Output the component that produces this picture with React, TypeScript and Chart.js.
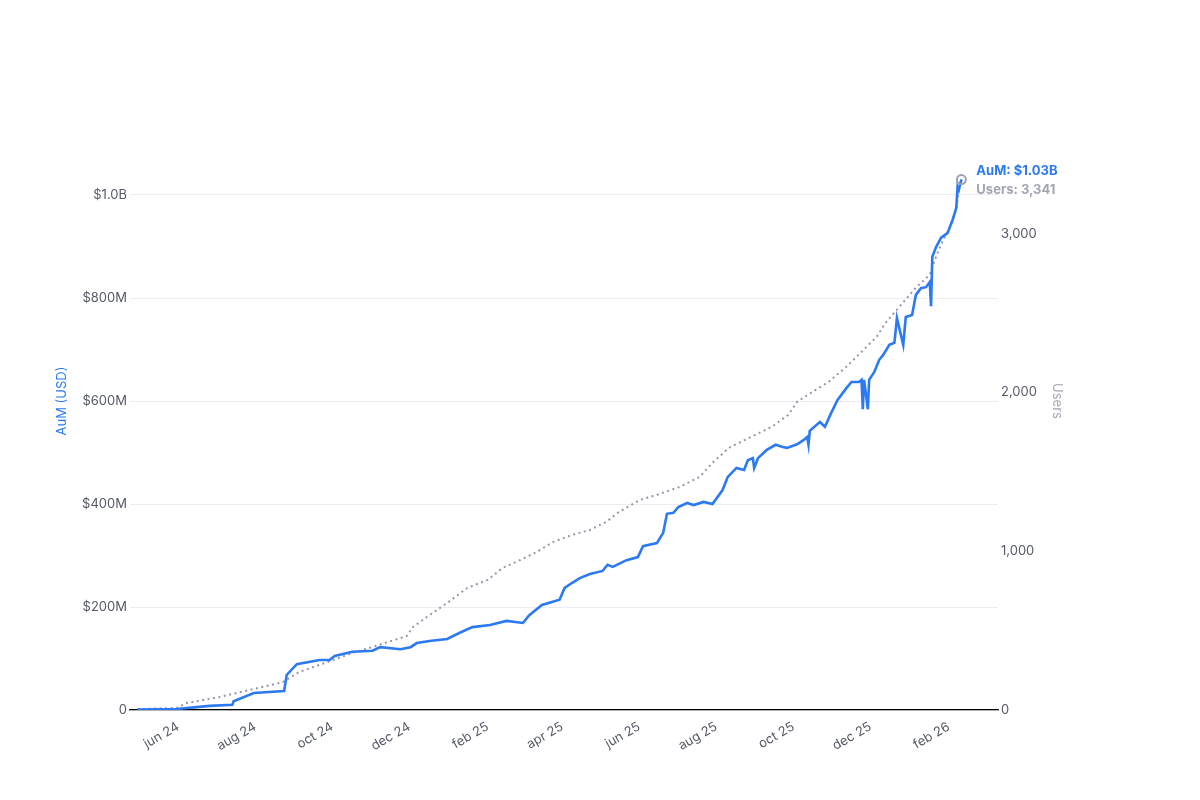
import React, { useEffect, useRef } from "react";
import { Chart, registerables } from "chart.js";

Chart.register(...registerables);

// AuM (USD, millions)
const aumDates = [
  "2024-04-30", "2024-05-31", "2024-06-26", "2024-07-14", "2024-07-15", "2024-07-31",
  "2024-08-24", "2024-08-26", "2024-09-03", "2024-09-21", "2024-09-29", "2024-10-03",
  "2024-10-17", "2024-11-02", "2024-11-08", "2024-11-24", "2024-12-02", "2024-12-07",
  "2024-12-17", "2024-12-31", "2025-01-10", "2025-01-20", "2025-02-03", "2025-02-16",
  "2025-03-01", "2025-03-06", "2025-03-16", "2025-03-30", "2025-04-03", "2025-04-09",
  "2025-04-15", "2025-04-23", "2025-05-03", "2025-05-07", "2025-05-11", "2025-05-22",
  "2025-05-31", "2025-06-04", "2025-06-15", "2025-06-20", "2025-06-23", "2025-06-28",
  "2025-07-02", "2025-07-09", "2025-07-14", "2025-07-22", "2025-07-29", "2025-08-06",
  "2025-08-10", "2025-08-17", "2025-08-23", "2025-08-26", "2025-08-30", "2025-08-31",
  "2025-09-03", "2025-09-10", "2025-09-17", "2025-09-22", "2025-09-26", "2025-10-04",
  "2025-10-09", "2025-10-12", "2025-10-13", "2025-10-14", "2025-10-22", "2025-10-26",
  "2025-10-31", "2025-11-05", "2025-11-12", "2025-11-16", "2025-11-22", "2025-11-24",
  "2025-11-25", "2025-11-26", "2025-11-29", "2025-11-30", "2025-12-04", "2025-12-08",
  "2025-12-11", "2025-12-16", "2025-12-20", "2025-12-22", "2025-12-27", "2025-12-29",
  "2026-01-03", "2026-01-06", "2026-01-10", "2026-01-14", "2026-01-17", "2026-01-18",
  "2026-01-19", "2026-01-22", "2026-01-26", "2026-01-31", "2026-02-04", "2026-02-07",
  "2026-02-08", "2026-02-09", "2026-02-11",
];
const aumValues = [
  1, 2, 8, 10, 17, 33,
  37, 68, 89, 97, 97, 105,
  113, 115, 122, 118, 122, 130,
  134, 138, 150, 161, 165, 173,
  169, 184, 204, 214, 237, 247,
  256, 264, 270, 282, 278, 291,
  297, 318, 324, 344, 381, 383,
  394, 402, 398, 404, 400, 427,
  452, 470, 466, 485, 489, 470,
  489, 505, 515, 511, 509, 516,
  524, 530, 515, 542, 559, 550,
  577, 602, 625, 637, 637, 641,
  584, 641, 584, 641, 656, 680,
  689, 709, 713, 761, 709, 763,
  767, 806, 819, 821, 831, 784,
  880, 899, 917, 926, 951, 975,
  1016, 1010, 1030,
];

// Users
const userDates = [
  "2024-04-30", "2024-05-31", "2024-06-08", "2024-07-04", "2024-07-31", "2024-08-23",
  "2024-09-05", "2024-09-21", "2024-10-17", "2024-11-02", "2024-11-29", "2024-12-04",
  "2024-12-15", "2024-12-31", "2025-01-16", "2025-02-01", "2025-02-13", "2025-02-27",
  "2025-03-12", "2025-03-25", "2025-04-09", "2025-04-23", "2025-05-06", "2025-05-16",
  "2025-06-02", "2025-06-15", "2025-07-03", "2025-07-19", "2025-07-29", "2025-08-11",
  "2025-08-27", "2025-09-14", "2025-09-27", "2025-10-04", "2025-10-15", "2025-10-29",
  "2025-11-12", "2025-11-24", "2025-12-06", "2025-12-13", "2025-12-24", "2026-01-06",
  "2026-01-17", "2026-01-21", "2026-01-27", "2026-02-01", "2026-02-07", "2026-02-09",
  "2026-02-11",
];
const userValues = [
  6, 13, 44, 82, 132, 176,
  240, 284, 359, 397, 466, 523,
  586, 674, 769, 819, 895, 945,
  996, 1059, 1103, 1134, 1185, 1248,
  1324, 1355, 1405, 1469, 1557, 1651,
  1714, 1784, 1859, 1941, 1998, 2067,
  2162, 2256, 2351, 2439, 2540, 2660,
  2742, 2836, 2950, 3025, 3151, 3277,
  3341,
];

const tickDates = [
  "2024-06-01", "2024-08-01", "2024-10-01", "2024-12-01", "2025-02-01",
  "2025-04-01", "2025-06-01", "2025-08-01", "2025-10-01", "2025-12-01", "2026-02-01",
];
const tickLabels = [
  "jun 24", "aug 24", "oct 24", "dec 24", "feb 25",
  "apr 25", "jun 25", "aug 25", "oct 25", "dec 25", "feb 26",
];
const aumTicks = [0, 200, 400, 600, 800, 1000];
const userTicks = [0, 1000, 2000, 3000];

const X_MIN = "2024-04-24";
const X_MAX = "2026-03-12";
const AUM_MAX = 1200;
const LAST_AUM = aumValues[aumValues.length - 1];
const LAST_USERS = userValues[userValues.length - 1];
const USERS_MAX = (AUM_MAX * LAST_USERS) / LAST_AUM;

const BLUE = "#2b7af3";
const GRAY = "#9896a8";
const TICK = "#555a66";
const FONT = "Inter, 'Noto Sans', sans-serif";

const endLabelPlugin = {
  id: "endLabel",
  afterDatasetsDraw(chart: any) {
    const { ctx, scales } = chart;
    const x = scales.x.getPixelForValue(Date.parse(aumDates[aumDates.length - 1]));
    const y = scales.y1.getPixelForValue(LAST_USERS);
    ctx.save();
    ctx.beginPath();
    ctx.arc(x, y, 4.5, 0, Math.PI * 2);
    ctx.lineWidth = 2;
    ctx.strokeStyle = "#9aa0b2";
    ctx.stroke();
    ctx.font = `bold 13px ${FONT}`;
    ctx.textBaseline = "middle";
    ctx.textAlign = "left";
    ctx.fillStyle = BLUE;
    ctx.fillText(`AuM: $${(LAST_AUM / 1000).toFixed(2)}B`, x + 15, y - 8);
    ctx.fillStyle = "#a3a6b2";
    ctx.fillText(`Users: ${LAST_USERS.toLocaleString("en-US")}`, x + 15, y + 11);
    ctx.restore();
  },
};

export default function App() {
  const ref = useRef<HTMLCanvasElement | null>(null);
  useEffect(() => {
    if (!ref.current) return;
    const chart = new Chart(ref.current, {
      type: "line",
      data: {
        datasets: [
          {
            label: "Users",
            data: userDates.map((d, i) => ({ x: Date.parse(d), y: userValues[i] })),
            yAxisID: "y1",
            borderColor: GRAY,
            borderWidth: 2,
            borderDash: [2, 3.5],
            pointRadius: 0,
            tension: 0,
            order: 2,
          },
          {
            label: "AuM",
            data: aumDates.map((d, i) => ({ x: Date.parse(d), y: aumValues[i] })),
            yAxisID: "y",
            borderColor: BLUE,
            borderWidth: 2.6,
            pointRadius: 0,
            tension: 0,
            order: 1,
          },
        ],
      },
      options: {
        animation: false,
        responsive: false,
        layout: { padding: { left: 50, top: 92, right: 131, bottom: 0 } },
        plugins: { legend: { display: false }, tooltip: { enabled: false } },
        scales: {
          x: {
            type: "linear",
            min: Date.parse(X_MIN),
            max: Date.parse(X_MAX),
            afterBuildTicks: (scale: any) => {
              scale.ticks = tickDates.map((d) => ({ value: Date.parse(d) }));
            },
            afterFit: (scale: any) => {
              scale.height = 90;
            },
            ticks: {
              autoSkip: false,
              minRotation: 30,
              maxRotation: 30,
              padding: 1,
              color: TICK,
              font: { family: FONT, size: 13 },
              callback: (_v: any, i: number) => tickLabels[i],
            },
            grid: { display: false },
            border: { display: true, color: "#000", width: 1.2 },
          },
          y: {
            position: "left",
            min: 0,
            max: AUM_MAX,
            afterBuildTicks: (scale: any) => {
              scale.ticks = aumTicks.map((v) => ({ value: v }));
            },
            afterFit: (scale: any) => {
              scale.width = 80;
            },
            ticks: {
              padding: 3,
              color: TICK,
              font: { family: FONT, size: 13 },
              callback: (v: any) =>
                v === 0 ? "0" : v >= 1000 ? `$${(v / 1000).toFixed(1)}B` : `$${v}M`,
            },
            grid: { color: "#ececf0", drawTicks: false, lineWidth: 1 },
            border: { display: false },
            title: {
              display: true,
              text: "AuM (USD)",
              color: BLUE,
              font: { family: FONT, size: 13 },
            },
          },
          y1: {
            position: "right",
            min: 0,
            max: USERS_MAX,
            afterBuildTicks: (scale: any) => {
              scale.ticks = userTicks.map((v) => ({ value: v }));
            },
            afterFit: (scale: any) => {
              scale.width = 71;
            },
            ticks: {
              padding: 3,
              color: TICK,
              font: { family: FONT, size: 13 },
              callback: (v: any) => Number(v).toLocaleString("en-US"),
            },
            grid: { display: false, drawTicks: false },
            border: { display: false },
            title: {
              display: true,
              text: "Users",
              color: "#a3a6b2",
              font: { family: FONT, size: 13 },
            },
          },
        },
      },
      plugins: [endLabelPlugin],
    });
    return () => chart.destroy();
  }, []);
  return (
    <div style={{ position: "fixed", left: 0, top: 0, width: 1200, height: 800, background: "#fff" }}>
      <canvas ref={ref} width={1200} height={800} style={{ width: 1200, height: 800 }} />
    </div>
  );
}
